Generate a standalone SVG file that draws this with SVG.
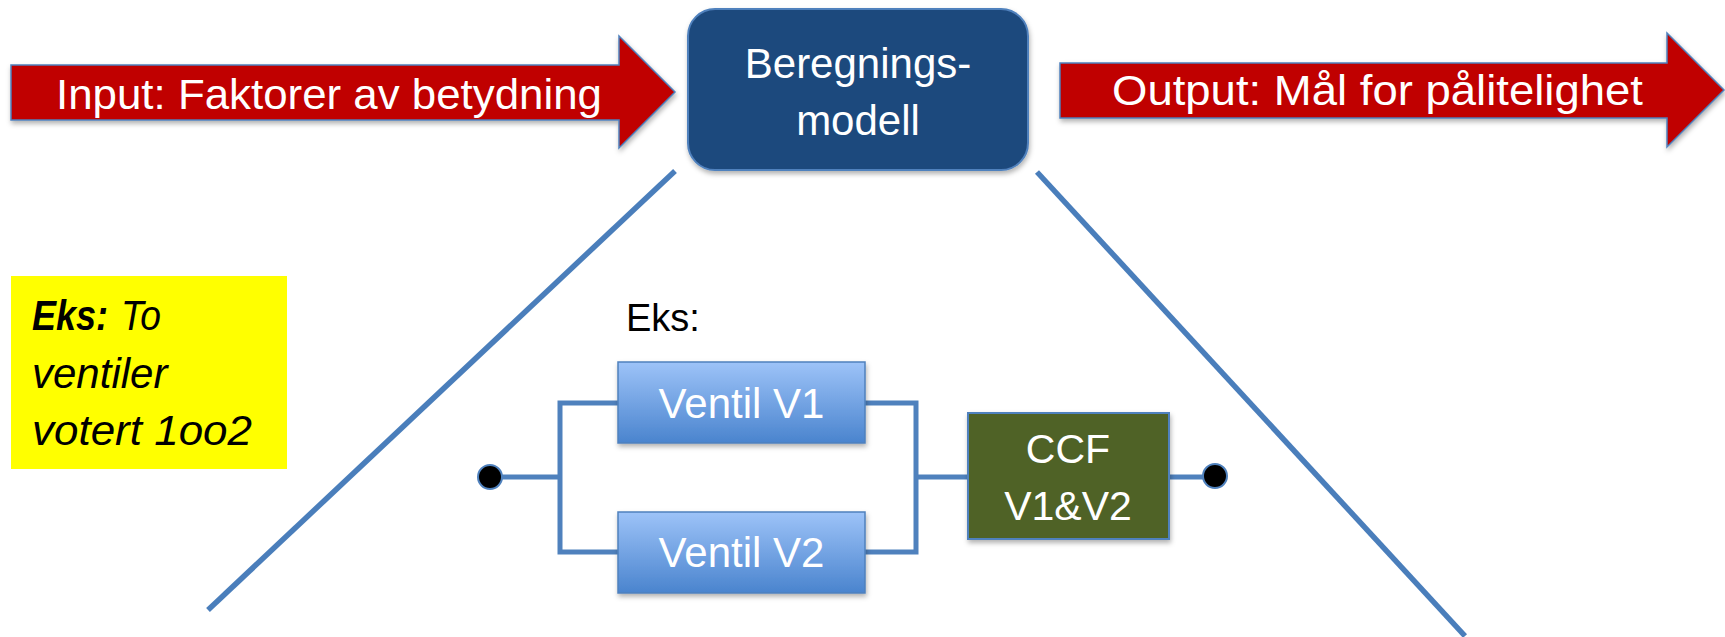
<svg xmlns="http://www.w3.org/2000/svg" width="1725" height="637" viewBox="0 0 1725 637">
  <defs>
    <linearGradient id="blueGrad" x1="0" y1="0" x2="0" y2="1">
      <stop offset="0" stop-color="#9DC3F8"/>
      <stop offset="1" stop-color="#4A84CE"/>
    </linearGradient>
    <filter id="shadow" x="-10%" y="-20%" width="120%" height="150%">
      <feDropShadow dx="1" dy="3" stdDeviation="2.5" flood-color="#000" flood-opacity="0.3"/>
    </filter>
  </defs>
  <style>
    .arrow { fill: #C00000; stroke: #4F81BD; stroke-width: 1.5; filter: url(#shadow); }
    .wtxt { fill: #FFFFFF; font-family: "Liberation Sans", Arial, sans-serif; }
    .ntxt { fill: #000000; font-family: "Liberation Sans", Arial, sans-serif; font-style: italic; font-size: 42px; }
    .diag { stroke: #4A7EBB; stroke-width: 5.5; fill: none; }
    .wire { stroke: #4F81BD; stroke-width: 5; fill: none; stroke-linejoin: miter; }
    .valve { fill: url(#blueGrad); stroke: #4F81BD; stroke-width: 1.5; filter: url(#shadow); }
    .dot { fill: #000000; stroke: #4F81BD; stroke-width: 2; }
  </style>

  <g id="connectors">
    <line class="diag" x1="675" y1="171" x2="208" y2="610"/>
    <line class="diag" x1="1037" y1="172" x2="1465" y2="636"/>
    <path class="wire" d="M490,477 H560 M618,403 H560 V552 H618 M865,403 H916 V552 H865 M916,477 H968 M1169,477 H1215"/>
  </g>

  <g id="input-arrow">
    <polygon class="arrow" points="11,65 619,65 619,36 675,92 619,148 619,120 11,120"/>
    <text class="wtxt" x="56" y="109" font-size="43" textLength="546" lengthAdjust="spacingAndGlyphs">Input: Faktorer av betydning</text>
  </g>

  <g id="model">
    <rect x="688" y="9" width="340" height="161" rx="27" ry="27" fill="#1F497D" stroke="#4F81BD" stroke-width="2" filter="url(#shadow)"/>
    <text class="wtxt" x="858" y="78" font-size="42" text-anchor="middle">Beregnings-</text>
    <text class="wtxt" x="858" y="135" font-size="42" text-anchor="middle">modell</text>
  </g>

  <g id="output-arrow">
    <polygon class="arrow" points="1060,63 1667,63 1667,33 1724,90 1667,147 1667,118 1060,118"/>
    <text class="wtxt" x="1112" y="105" font-size="43" textLength="531" lengthAdjust="spacingAndGlyphs">Output: Mål for pålitelighet</text>
  </g>

  <g id="example-note">
    <rect x="11" y="276" width="276" height="193" fill="#FFFF00"/>
    <text class="ntxt" x="32" y="330" font-weight="bold" textLength="76" lengthAdjust="spacingAndGlyphs">Eks:</text>
    <text class="ntxt" x="121" y="330" textLength="40" lengthAdjust="spacingAndGlyphs">To</text>
    <text class="ntxt" x="32" y="388">ventiler</text>
    <text class="ntxt" x="32" y="445" textLength="220" lengthAdjust="spacingAndGlyphs">votert 1oo2</text>
  </g>

  <g id="eks-label">
    <text x="626" y="331" font-family="'Liberation Sans', Arial, sans-serif" font-size="38" fill="#000">Eks:</text>
  </g>

  <g id="start-dot">
    <circle class="dot" cx="490" cy="477" r="12"/>
  </g>

  <g id="valve-v1">
    <rect class="valve" x="618" y="362" width="247" height="81"/>
    <text class="wtxt" x="741.5" y="418" font-size="42" text-anchor="middle">Ventil V1</text>
  </g>

  <g id="valve-v2">
    <rect class="valve" x="618" y="512" width="247" height="81"/>
    <text class="wtxt" x="741.5" y="567" font-size="42" text-anchor="middle">Ventil V2</text>
  </g>

  <g id="ccf">
    <rect x="968" y="413" width="201" height="126" fill="#4F6228" stroke="#4F81BD" stroke-width="2" filter="url(#shadow)"/>
    <text class="wtxt" x="1068" y="463" font-size="41" text-anchor="middle">CCF</text>
    <text class="wtxt" x="1068" y="520" font-size="41" text-anchor="middle">V1&amp;V2</text>
  </g>

  <g id="end-dot">
    <circle class="dot" cx="1215" cy="476" r="12"/>
  </g>
</svg>
